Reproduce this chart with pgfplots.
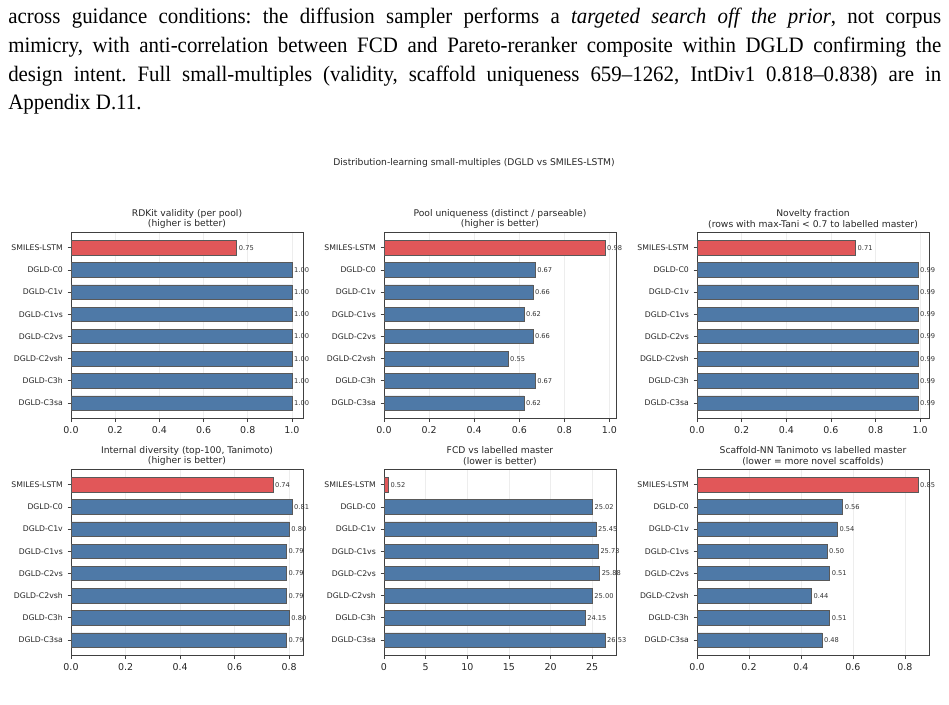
\documentclass[border=0pt]{standalone}
\usepackage{fontspec}
\setmainfont{DejaVu Sans}
\newfontfamily\parafont[FakeStretch=0.95]{Liberation Serif}
\usepackage{pgfplots}
\pgfplotsset{compat=1.18}
\definecolor{cred}{HTML}{E15759}
\definecolor{cblue}{HTML}{4E79A7}
\frenchspacing
\pgfplotsset{
  /pgf/number format/assume math mode=true,
  base/.style={
    anchor=north west, scale only axis, width=174pt, height=140pt,
    xmin=0, ymin=-0.7075, ymax=7.7075, y dir=reverse,
    ytick={0,...,7},
    yticklabels={SMILES-LSTM,DGLD-C0,DGLD-C1v,DGLD-C1vs,DGLD-C2vs,DGLD-C2vsh,DGLD-C3h,DGLD-C3sa},
    tick align=outside, tick pos=left, major tick length=2.6pt,
    tick style={black!75, line width=0.5pt},
    axis line style={black!75, line width=0.6pt},
    xmajorgrids, major grid style={black!7, line width=0.4pt},
    yticklabel style={font=\fontsize{5.8}{6.5}\selectfont, text=black!85},
    xticklabel style={font=\fontsize{7.1}{8}\selectfont, text=black!85},
    title style={font=\fontsize{6.9}{8}\selectfont, align=center, text=black!85, yshift=-7pt},
    every axis plot/.append style={xbar, bar width=0.65, bar shift=0pt, draw=black!65, line width=0.35pt,
      nodes near coords, nodes near coords align=horizontal, point meta=x,
      every node near coord/.append style={font=\fontsize{5}{6}\selectfont, text=black!80, anchor=west, inner sep=0pt, xshift=1.5pt,
        /pgf/number format/.cd, fixed, fixed zerofill, precision=2}},
  },
  dec1/.style={xtick={0,0.2,0.4,0.6,0.8,1.0}, xticklabel style={/pgf/number format/.cd, fixed, fixed zerofill, precision=1}},
}
\begin{document}
\begin{tikzpicture}
\path[use as bounding box] (0,0) rectangle (711.75pt,-528pt);
% paragraph
\begin{scope}[every node/.style={anchor=base west, inner sep=0pt, font=\parafont\fontsize{16.5}{19}\selectfont}]
\node at (6pt,-17.8pt) {\frenchspacing\makebox[699.75pt][s]{across guidance conditions: the diffusion sampler performs a \textit{targeted search off the prior}, not corpus}};
\node at (6pt,-39.3pt) {\frenchspacing\makebox[699.75pt][s]{mimicry, with anti-correlation between FCD and Pareto-reranker composite within DGLD confirming the}};
\node at (6pt,-60.9pt) {\frenchspacing\makebox[699.75pt][s]{design intent. Full small-multiples (validity, scaffold uniqueness 659–1262, IntDiv1 0.818–0.838) are in}};
\node at (6pt,-82.3pt) {Appendix D.11.};
\end{scope}
\node[font=\fontsize{6.9}{8}\selectfont, text=black!85] at (355.5pt,-122.25pt) {Distribution-learning small-multiples (DGLD vs SMILES-LSTM)};

\begin{axis}[base, dec1, at={(53.25pt,-174pt)}, xmax=1.05,
  title={RDKit validity (per pool)\\(higher is better)}]
\addplot[fill=cred] coordinates {(0.75,0)};
\addplot[fill=cblue] coordinates {(1.00,1) (1.00,2) (1.00,3) (1.00,4) (1.00,5) (1.00,6) (1.00,7)};
\end{axis}

\begin{axis}[base, dec1, at={(288pt,-174pt)}, xmax=1.029,
  title={Pool uniqueness (distinct / parseable)\\(higher is better)}]
\addplot[fill=cred] coordinates {(0.98,0)};
\addplot[fill=cblue] coordinates {(0.67,1) (0.66,2) (0.62,3) (0.66,4) (0.55,5) (0.67,6) (0.62,7)};
\end{axis}

\begin{axis}[base, dec1, at={(522.75pt,-174pt)}, xmax=1.0395,
  title={Novelty fraction\\(rows with max-Tani < 0.7 to labelled master)}]
\addplot[fill=cred] coordinates {(0.71,0)};
\addplot[fill=cblue] coordinates {(0.99,1) (0.99,2) (0.99,3) (0.99,4) (0.99,5) (0.99,6) (0.99,7)};
\end{axis}

\begin{axis}[base, at={(53.25pt,-351.75pt)}, xmax=0.8505,
  xtick={0,0.2,0.4,0.6,0.8}, xticklabel style={/pgf/number format/.cd, fixed, fixed zerofill, precision=1},
  title={Internal diversity (top-100, Tanimoto)\\(higher is better)}]
\addplot[fill=cred] coordinates {(0.74,0)};
\addplot[fill=cblue] coordinates {(0.81,1) (0.80,2) (0.79,3) (0.79,4) (0.79,5) (0.80,6) (0.79,7)};
\end{axis}

\begin{axis}[base, at={(288pt,-351.75pt)}, xmax=27.86,
  xtick={0,5,10,15,20,25},
  title={FCD vs labelled master\\(lower is better)}]
\addplot[fill=cred] coordinates {(0.52,0)};
\addplot[fill=cblue] coordinates {(25.02,1) (25.45,2) (25.73,3) (25.88,4) (25.00,5) (24.15,6) (26.53,7)};
\end{axis}

\begin{axis}[base, at={(522.75pt,-351.75pt)}, xmax=0.8925,
  xtick={0,0.2,0.4,0.6,0.8}, xticklabel style={/pgf/number format/.cd, fixed, fixed zerofill, precision=1},
  title={Scaffold-NN Tanimoto vs labelled master\\(lower = more novel scaffolds)}]
\addplot[fill=cred] coordinates {(0.85,0)};
\addplot[fill=cblue] coordinates {(0.56,1) (0.54,2) (0.50,3) (0.51,4) (0.44,5) (0.51,6) (0.48,7)};
\end{axis}
\end{tikzpicture}
\end{document}
